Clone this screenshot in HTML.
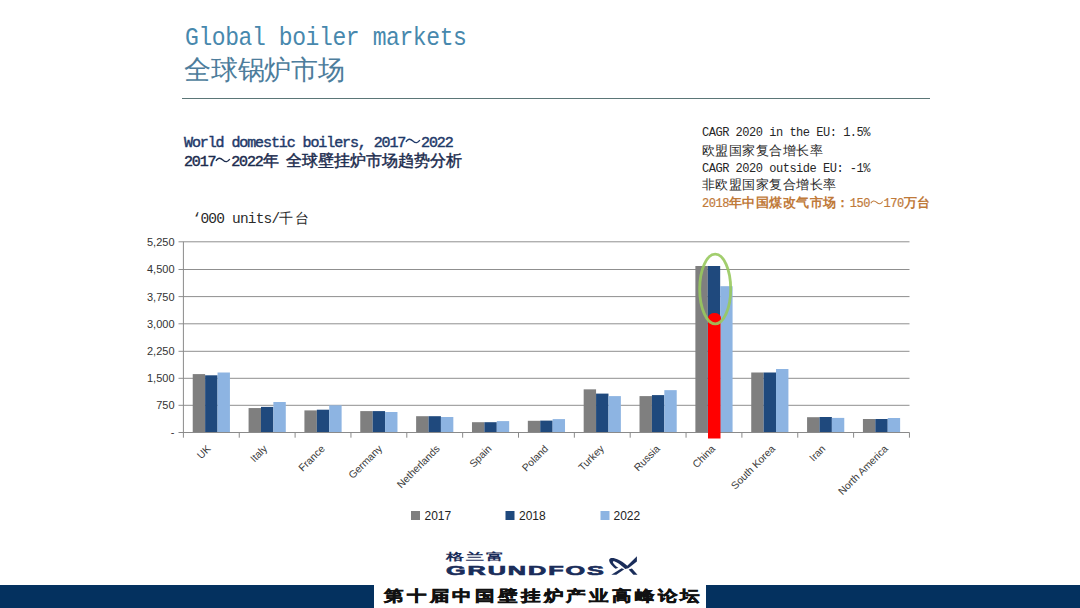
<!DOCTYPE html>
<html><head><meta charset="utf-8">
<style>
html,body{margin:0;padding:0;}
body{width:1080px;height:608px;position:relative;overflow:hidden;background:#fff;font-family:"Liberation Sans",sans-serif;}
.abs{position:absolute;white-space:nowrap;line-height:1;}
#t1{left:185px;top:26px;color:#4788ad;transform-origin:0 0;transform:scaleY(1.11);}
#t2{left:184px;top:56.5px;color:#4d7d9c;}
#rule{left:182px;top:98px;width:748px;height:1px;background:#5b7677;}
#s1{left:184px;top:134px;font-weight:normal;-webkit-text-stroke:0.45px #1f3a6a;color:#1f3a6a;}
#s2{left:184px;top:152.5px;font-weight:normal;-webkit-text-stroke:0.45px #1c2c4e;color:#1c2c4e;}
#units{left:192.5px;top:210px;color:#2a2a2a;}
.r{left:702px;color:#262626;}
.or{color:#bf7a3a;font-weight:bold;}
.or span:nth-child(odd){font-weight:normal;-webkit-text-stroke:0.2px #bf7a3a;}
svg#chart{position:absolute;left:0;top:0;}
.g{stroke:#8f8f8f;stroke-width:1;}
.a{stroke:#8a8a8a;stroke-width:1;}
.yl{font-family:"Liberation Sans",sans-serif;font-size:11px;fill:#333;}
.xl{font-family:"Liberation Sans",sans-serif;font-size:10.3px;fill:#3a3a3a;}
.leg{font-family:"Liberation Sans",sans-serif;font-size:12px;fill:#222;}
#foot{left:0;top:585px;width:1080px;height:23px;background:#04315f;}
#footbox{left:374px;top:584px;width:332px;height:24px;background:#fff;}
#foottxt{left:384px;top:588px;font-size:15px;font-weight:bold;color:#111;letter-spacing:2.54px;transform-origin:0 0;transform:scaleX(1.3);-webkit-text-stroke:0.5px #111;}
#logocn{left:445.5px;top:552px;font-size:10px;font-weight:bold;color:#1a2d5a;letter-spacing:1.0px;transform-origin:0 0;transform:scaleX(1.8);}
#logoen{left:446px;top:564.7px;font-size:12.3px;font-weight:bold;color:#1a2d5a;transform-origin:0 0;transform:scaleX(2.05);letter-spacing:0.95px;-webkit-text-stroke:0.6px #1a2d5a;}
</style></head><body>
<div class="abs" id="t1"><span style="font-family:'Liberation Mono',monospace;font-size:23.00px;letter-spacing:-0.40px">Global boiler markets</span></div>
<div class="abs" id="t2"><span style="font-family:'Liberation Sans',sans-serif;font-size:26.80px;letter-spacing:-0.20px">全球锅炉市场</span></div>
<div class="abs" id="rule"></div>
<div class="abs" id="s1"><span style="font-family:'Liberation Mono',monospace;font-size:15.00px;letter-spacing:-1.10px">World domestic boilers, 2017</span><svg width="15.80" height="7.90" viewBox="0 0 20 10" preserveAspectRatio="none" style="vertical-align:1.75px;overflow:visible"><path d="M1.2,6.2 C3.5,2.2 6.5,1.8 10,5 C13.5,8.2 16.5,7.8 18.8,3.8" fill="none" stroke="currentColor" stroke-width="1.73" vector-effect="non-scaling-stroke" style="stroke-width:1.36px"/></svg><span style="font-family:'Liberation Mono',monospace;font-size:15.00px;letter-spacing:-1.10px">2022</span></div>
<div class="abs" id="s2"><span style="font-family:'Liberation Mono',monospace;font-size:15.00px;letter-spacing:-1.14px">2017</span><svg width="15.72" height="7.86" viewBox="0 0 20 10" preserveAspectRatio="none" style="vertical-align:1.77px;overflow:visible"><path d="M1.2,6.2 C3.5,2.2 6.5,1.8 10,5 C13.5,8.2 16.5,7.8 18.8,3.8" fill="none" stroke="currentColor" stroke-width="1.73" vector-effect="non-scaling-stroke" style="stroke-width:1.36px"/></svg><span style="font-family:'Liberation Mono',monospace;font-size:15.00px;letter-spacing:-1.14px">2022</span><span style="font-family:'Liberation Sans',sans-serif;font-size:15.72px;letter-spacing:-0.03px">年</span><span style="font-family:'Liberation Mono',monospace;font-size:15.00px;letter-spacing:-1.14px"> </span><span style="font-family:'Liberation Sans',sans-serif;font-size:15.72px;letter-spacing:-0.03px">全球壁挂炉市场趋势分析</span></div>
<div class="abs" id="units"><span style="font-family:'Liberation Mono',monospace;font-size:14.50px;letter-spacing:-0.80px">‘000 units/</span><span style="font-family:'Liberation Sans',sans-serif;font-size:13.90px;letter-spacing:1.80px">千台</span></div>
<div class="abs r" style="top:123px"><span style="font-family:'Liberation Mono',monospace;font-size:12.00px;letter-spacing:-0.48px">CAGR 2020 in the EU: 1.5%</span></div>
<div class="abs r" style="top:141.5px"><span style="font-family:'Liberation Sans',sans-serif;font-size:13.44px;letter-spacing:0.44px">欧盟国家复合增长率</span></div>
<div class="abs r" style="top:158.5px"><span style="font-family:'Liberation Mono',monospace;font-size:12.00px;letter-spacing:-0.48px">CAGR 2020 outside EU: -1%</span></div>
<div class="abs r" style="top:176px"><span style="font-family:'Liberation Sans',sans-serif;font-size:13.44px;letter-spacing:0.44px">非欧盟国家复合增长率</span></div>
<div class="abs r or" style="top:194px"><span style="font-family:'Liberation Mono',monospace;font-size:12.00px;letter-spacing:-0.48px">2018</span><span style="font-family:'Liberation Sans',sans-serif;font-size:13.44px;letter-spacing:0.44px">年中国煤改气市场：</span><span style="font-family:'Liberation Mono',monospace;font-size:12.00px;letter-spacing:-0.48px">150</span><svg width="13.44" height="6.72" viewBox="0 0 20 10" preserveAspectRatio="none" style="vertical-align:1.20px;overflow:visible"><path d="M1.2,6.2 C3.5,2.2 6.5,1.8 10,5 C13.5,8.2 16.5,7.8 18.8,3.8" fill="none" stroke="currentColor" stroke-width="1.62" vector-effect="non-scaling-stroke" style="stroke-width:1.09px"/></svg><span style="font-family:'Liberation Mono',monospace;font-size:12.00px;letter-spacing:-0.48px">170</span><span style="font-family:'Liberation Sans',sans-serif;font-size:13.44px;letter-spacing:0.44px">万台</span></div>
<svg id="chart" width="1080" height="608" viewBox="0 0 1080 608">
<line x1="178.5" x2="909.5" y1="405.30" y2="405.30" class="g"/>
<line x1="178.5" x2="909.5" y1="378.30" y2="378.30" class="g"/>
<line x1="178.5" x2="909.5" y1="351.30" y2="351.30" class="g"/>
<line x1="178.5" x2="909.5" y1="323.80" y2="323.80" class="g"/>
<line x1="178.5" x2="909.5" y1="296.60" y2="296.60" class="g"/>
<line x1="178.5" x2="909.5" y1="269.50" y2="269.50" class="g"/>
<line x1="178.5" x2="909.5" y1="241.80" y2="241.80" class="g"/>
<rect x="192.73" y="374.10" width="12.40" height="58.40" fill="#7f7f7f"/>
<rect x="205.13" y="375.30" width="12.40" height="57.20" fill="#1f497d"/>
<rect x="217.53" y="372.50" width="12.40" height="60.00" fill="#8db4e2"/>
<rect x="248.58" y="408.05" width="12.40" height="24.45" fill="#7f7f7f"/>
<rect x="260.98" y="406.90" width="12.40" height="25.60" fill="#1f497d"/>
<rect x="273.38" y="402.00" width="12.40" height="30.50" fill="#8db4e2"/>
<rect x="304.42" y="410.40" width="12.40" height="22.10" fill="#7f7f7f"/>
<rect x="316.82" y="409.70" width="12.40" height="22.80" fill="#1f497d"/>
<rect x="329.22" y="405.30" width="12.40" height="27.20" fill="#8db4e2"/>
<rect x="360.27" y="411.10" width="12.40" height="21.40" fill="#7f7f7f"/>
<rect x="372.67" y="411.10" width="12.40" height="21.40" fill="#1f497d"/>
<rect x="385.07" y="412.00" width="12.40" height="20.50" fill="#8db4e2"/>
<rect x="416.12" y="416.20" width="12.40" height="16.30" fill="#7f7f7f"/>
<rect x="428.52" y="416.20" width="12.40" height="16.30" fill="#1f497d"/>
<rect x="440.93" y="417.00" width="12.40" height="15.50" fill="#8db4e2"/>
<rect x="471.98" y="422.20" width="12.40" height="10.30" fill="#7f7f7f"/>
<rect x="484.38" y="422.20" width="12.40" height="10.30" fill="#1f497d"/>
<rect x="496.78" y="421.10" width="12.40" height="11.40" fill="#8db4e2"/>
<rect x="527.83" y="420.80" width="12.40" height="11.70" fill="#7f7f7f"/>
<rect x="540.23" y="420.60" width="12.40" height="11.90" fill="#1f497d"/>
<rect x="552.62" y="419.10" width="12.40" height="13.40" fill="#8db4e2"/>
<rect x="583.67" y="389.35" width="12.40" height="43.15" fill="#7f7f7f"/>
<rect x="596.07" y="393.60" width="12.40" height="38.90" fill="#1f497d"/>
<rect x="608.47" y="396.10" width="12.40" height="36.40" fill="#8db4e2"/>
<rect x="639.52" y="396.10" width="12.40" height="36.40" fill="#7f7f7f"/>
<rect x="651.92" y="395.10" width="12.40" height="37.40" fill="#1f497d"/>
<rect x="664.32" y="390.15" width="12.40" height="42.35" fill="#8db4e2"/>
<rect x="695.38" y="266.00" width="12.40" height="166.50" fill="#7f7f7f"/>
<rect x="707.77" y="266.00" width="12.40" height="166.50" fill="#1f497d"/>
<rect x="720.17" y="286.20" width="12.40" height="146.30" fill="#8db4e2"/>
<rect x="751.23" y="372.50" width="12.40" height="60.00" fill="#7f7f7f"/>
<rect x="763.62" y="372.50" width="12.40" height="60.00" fill="#1f497d"/>
<rect x="776.02" y="369.00" width="12.40" height="63.50" fill="#8db4e2"/>
<rect x="807.07" y="417.20" width="12.40" height="15.30" fill="#7f7f7f"/>
<rect x="819.47" y="417.00" width="12.40" height="15.50" fill="#1f497d"/>
<rect x="831.87" y="417.90" width="12.40" height="14.60" fill="#8db4e2"/>
<rect x="862.92" y="419.00" width="12.40" height="13.50" fill="#7f7f7f"/>
<rect x="875.32" y="419.00" width="12.40" height="13.50" fill="#1f497d"/>
<rect x="887.72" y="418.00" width="12.40" height="14.50" fill="#8db4e2"/>
<line x1="183.4" x2="183.4" y1="241.8" y2="432.50" class="a"/>
<line x1="178.5" x2="909.5" y1="432.5" y2="432.5" class="a"/>
<line x1="183.40" x2="183.40" y1="432.5" y2="437.70" class="a"/>
<line x1="239.25" x2="239.25" y1="432.5" y2="437.70" class="a"/>
<line x1="295.10" x2="295.10" y1="432.5" y2="437.70" class="a"/>
<line x1="350.95" x2="350.95" y1="432.5" y2="437.70" class="a"/>
<line x1="406.80" x2="406.80" y1="432.5" y2="437.70" class="a"/>
<line x1="462.65" x2="462.65" y1="432.5" y2="437.70" class="a"/>
<line x1="518.50" x2="518.50" y1="432.5" y2="437.70" class="a"/>
<line x1="574.35" x2="574.35" y1="432.5" y2="437.70" class="a"/>
<line x1="630.20" x2="630.20" y1="432.5" y2="437.70" class="a"/>
<line x1="686.05" x2="686.05" y1="432.5" y2="437.70" class="a"/>
<line x1="741.90" x2="741.90" y1="432.5" y2="437.70" class="a"/>
<line x1="797.75" x2="797.75" y1="432.5" y2="437.70" class="a"/>
<line x1="853.60" x2="853.60" y1="432.5" y2="437.70" class="a"/>
<line x1="909.45" x2="909.45" y1="432.5" y2="437.70" class="a"/>
<text x="174.5" y="436.30" text-anchor="end" class="yl">-</text>
<text x="174.5" y="409.20" text-anchor="end" class="yl">750</text>
<text x="174.5" y="382.20" text-anchor="end" class="yl">1,500</text>
<text x="174.5" y="355.20" text-anchor="end" class="yl">2,250</text>
<text x="174.5" y="327.70" text-anchor="end" class="yl">3,000</text>
<text x="174.5" y="300.50" text-anchor="end" class="yl">3,750</text>
<text x="174.5" y="273.40" text-anchor="end" class="yl">4,500</text>
<text x="174.5" y="245.70" text-anchor="end" class="yl">5,250</text>
<text transform="translate(211.33,449.40) rotate(-45)" text-anchor="end" class="xl">UK</text>
<text transform="translate(267.82,449.40) rotate(-45)" text-anchor="end" class="xl">Italy</text>
<text transform="translate(325.51,449.40) rotate(-45)" text-anchor="end" class="xl">France</text>
<text transform="translate(382.80,449.40) rotate(-45)" text-anchor="end" class="xl">Germany</text>
<text transform="translate(440.50,449.40) rotate(-45)" text-anchor="end" class="xl">Netherlands</text>
<text transform="translate(492.26,449.40) rotate(-45)" text-anchor="end" class="xl">Spain</text>
<text transform="translate(548.91,449.40) rotate(-45)" text-anchor="end" class="xl">Poland</text>
<text transform="translate(604.63,449.40) rotate(-45)" text-anchor="end" class="xl">Turkey</text>
<text transform="translate(660.53,449.40) rotate(-45)" text-anchor="end" class="xl">Russia</text>
<text transform="translate(715.74,449.40) rotate(-45)" text-anchor="end" class="xl">China</text>
<text transform="translate(775.84,449.40) rotate(-45)" text-anchor="end" class="xl">South Korea</text>
<text transform="translate(826.16,449.40) rotate(-45)" text-anchor="end" class="xl">Iran</text>
<text transform="translate(888.66,449.40) rotate(-45)" text-anchor="end" class="xl">North America</text>
<rect x="708" y="318" width="12.5" height="120.5" fill="#ff0000"/>
<ellipse cx="714.5" cy="318" rx="6.5" ry="5" fill="#ff0000"/>
<ellipse cx="715.2" cy="289" rx="15.5" ry="34.8" fill="none" stroke="#98c95e" stroke-opacity="0.9" stroke-width="2.8"/>
<rect x="411" y="511" width="9" height="9" fill="#7f7f7f"/>
<text x="424.5" y="520" class="leg">2017</text>
<rect x="505.5" y="511" width="9" height="9" fill="#1f497d"/>
<text x="519" y="520" class="leg">2018</text>
<rect x="600.5" y="511" width="9" height="9" fill="#8db4e2"/>
<text x="613.5" y="520" class="leg">2022</text>
<g fill="#1a2d5a">
<path d="M615.6,568.8 C611,565 608.3,561.3 609.4,559.2 C610.8,557 617.5,557.3 627.3,565.8 L636.9,556.3 L636.9,561.4 L628.3,568.3 L625.2,568.9 C618.5,562.8 614.3,560.8 613,561.4 C612.3,562.2 614.6,565.2 618.4,567.8 Z"/>
<path d="M611.3,574.7 L621.6,568.3 L624.3,569.3 L616.3,574.7 Z"/>
<path d="M628.6,569.4 L631.9,568.6 L637.5,574.7 L633.4,574.7 Z"/>
</g>
</svg>
<div class="abs" id="logocn">格兰富</div>
<div class="abs" id="logoen">GRUNDFOS</div>
<div class="abs" id="foot"></div>
<div class="abs" id="footbox"></div>
<div class="abs" id="foottxt">第十届中国壁挂炉产业高峰论坛</div>
</body></html>
